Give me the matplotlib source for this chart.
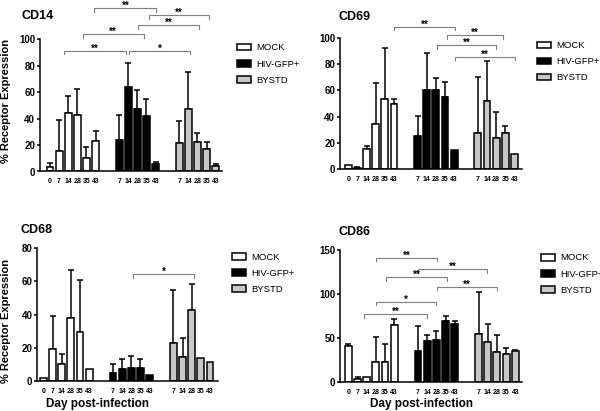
import matplotlib
matplotlib.use("Agg")
import matplotlib.pyplot as plt
import numpy as np

plt.rcParams["font.family"] = ["Liberation Sans", "DejaVu Sans"]

GROUPS = ["MOCK", "HIV-GFP+", "BYSTD"]
FACES = ["white", "black", "#c8c8c8"]
MOCK_DAYS = [0, 7, 14, 28, 35, 43]
INF_DAYS = [7, 14, 28, 35, 43]

# bar means and upper SD (% receptor expression)
cd14_mock = [3.2, 15.7, 44, 42.7, 10.4, 23]
cd14_mock_sd = [3.0, 23.3, 13.1, 19.5, 8.4, 7.6]
cd14_hiv = [23.8, 64.1, 47, 42.2, 5.7]
cd14_hiv_sd = [18.9, 18.2, 14.6, 12.6, 1.7]
cd14_byst = [21.3, 47.3, 22, 17, 4.2]
cd14_byst_sd = [17.1, 27.7, 6.8, 5.3, 1.2]

cd69_mock = [3.5, 1.0, 15.5, 34.4, 53.4, 49.4]
cd69_mock_sd = [0, 0.8, 2.5, 30.9, 39, 4]
cd69_hiv = [25, 60, 60.5, 55, 15]
cd69_hiv_sd = [15.8, 28.5, 9, 11.5, 0]
cd69_byst = [27.6, 51.9, 23.5, 27.6, 11.4]
cd69_byst_sd = [42.4, 30.6, 20, 5.4, 0]

cd68_mock = [2, 19.1, 10, 38.2, 29.3, 7]
cd68_mock_sd = [0, 20.1, 6.5, 28.5, 31.7, 0]
cd68_hiv = [4.6, 7, 8, 8, 3.4]
cd68_hiv_sd = [5.7, 6, 7, 5, 0]
cd68_byst = [22.7, 14.3, 42.8, 13.9, 11.5]
cd68_byst_sd = [32, 11.7, 15.5, 0, 0]

cd86_mock = [41, 3, 5, 22.8, 22, 64.6]
cd86_mock_sd = [1.9, 2.7, 0, 28.5, 21, 6.8]
cd86_hiv = [35, 46.7, 47.9, 68.7, 66]
cd86_hiv_sd = [28.4, 6.5, 9.8, 5.7, 2.7]
cd86_byst = [54.3, 45.6, 34.2, 31.5, 35]
cd86_byst_sd = [48.2, 19.7, 19.3, 6.5, 1]

# significance brackets: (x start, x end, y level, label), x in bar slots
cd14_sig = [(4.87, 11.68, 123.4, "**"), (10.85, 17.47, 118.4, "**"),
            (9.70, 16.34, 110.8, "**"), (3.59, 10.30, 103.8, "**"),
            (1.57, 8.32, 91.4, "**"), (8.71, 15.42, 91.4, "*")]
cd69_sig = [(5.04, 11.73, 108.4, "**"), (10.79, 17.0, 102, "**"),
            (9.69, 16.2, 94.5, "**"), (11.7, 18.3, 85.6, "**")]
cd68_sig = [(9.83, 16.45, 64.5, "*")]
cd86_sig = [(3.02, 9.72, 141.2, "**"), (7.64, 15.1, 128, "**"),
            (4.08, 10.74, 118.9, "**"), (9.65, 16.2, 108.2, "**"),
            (2.99, 9.57, 91.1, "*"), (1.75, 8.56, 77.1, "**")]

HIV_START, BYST_START = 7.6, 14.2
W, H = 600, 411


def px_rect(x0, x1, y_top, y_bot):
    return [x0 / W, 1 - y_bot / H, (x1 - x0) / W, (y_bot - y_top) / H]


PANELS = [
    dict(name="CD14", means=[cd14_mock, cd14_hiv, cd14_byst],
         sds=[cd14_mock_sd, cd14_hiv_sd, cd14_byst_sd], sig=cd14_sig,
         ymax=100, step=20, rect=px_rect(40, 222, 39.3, 171.5), xlim=(-1.1, 18.9),
         title=(22, 16), legend=(236.7, 49)),
    dict(name="CD69", means=[cd69_mock, cd69_hiv, cd69_byst],
         sds=[cd69_mock_sd, cd69_hiv_sd, cd69_byst_sd], sig=cd69_sig,
         ymax=100, step=20, rect=px_rect(340, 521.7, 37.7, 169.3), xlim=(-0.91, 19.0),
         title=(339, 16.7), legend=(536.7, 46.7)),
    dict(name="CD68", means=[cd68_mock, cd68_hiv, cd68_byst],
         sds=[cd68_mock_sd, cd68_hiv_sd, cd68_byst_sd], sig=cd68_sig,
         ymax=80, step=20, rect=px_rect(37.3, 218.3, 248.3, 381), xlim=(-0.66, 19.1),
         title=(20.7, 230), legend=(231.7, 258.3)),
    dict(name="CD86", means=[cd86_mock, cd86_hiv, cd86_byst],
         sds=[cd86_mock_sd, cd86_hiv_sd, cd86_byst_sd], sig=cd86_sig,
         ymax=150, step=50, rect=px_rect(340, 521.7, 250, 381.7), xlim=(-0.91, 18.9),
         title=(339, 231.7), legend=(540.7, 259)),
]


def draw_panel(fig, p):
    ax = fig.add_axes(p["rect"])
    xs = [np.arange(6.0), HIV_START + np.arange(5), BYST_START + np.arange(5)]
    for x, m, sd, fc, lab in zip(xs, p["means"], p["sds"], FACES, GROUPS):
        m, sd = np.asarray(m, float), np.asarray(sd, float)
        ax.bar(x, m, width=0.75, color=fc, edgecolor="black", linewidth=1.1,
               label=lab, zorder=2)
        keep = sd > 0
        ax.errorbar(x[keep], m[keep], yerr=[np.zeros(keep.sum()), sd[keep]],
                    fmt="none", ecolor="black", elinewidth=1.1, capsize=2,
                    capthick=1.1, zorder=1)

    ax.set_xlim(*p["xlim"])
    ax.set_ylim(0, p["ymax"])
    ax.set_yticks(np.arange(0, p["ymax"] + 1, p["step"]))
    ax.set_xticks(np.concatenate(xs))
    ax.set_xticklabels([str(d) for d in MOCK_DAYS + INF_DAYS + INF_DAYS])
    for s in ("top", "right"):
        ax.spines[s].set_visible(False)
    for s in ("left", "bottom"):
        ax.spines[s].set_linewidth(1.1)
    ax.tick_params(axis="x", length=0, pad=5, labelsize=5)
    ax.tick_params(axis="y", length=2.5, width=1.1, pad=1, labelsize=7)
    for t in ax.get_xticklabels() + ax.get_yticklabels():
        t.set_fontweight("bold")

    drop = 0.028 * p["ymax"]
    for x0, x1, y, lab in p["sig"]:
        ax.plot([x0, x0, x1, x1], [y - drop, y, y, y - drop], color="#808080",
                lw=0.8, clip_on=False, zorder=3)
        ax.annotate(lab, ((x0 + x1) / 2, y), xytext=(0, 1.5), textcoords="offset points",
                    ha="center", va="center", fontsize=7, fontweight="bold",
                    annotation_clip=False)

    tx, ty = p["title"]
    fig.text(tx / W, 1 - ty / H, p["name"], ha="left", va="center",
             fontsize=9, fontweight="bold")
    lx, ly = p["legend"]
    ax.legend(loc="upper left", bbox_to_anchor=(lx / W, 1 - (ly - 5.5) / H),
              bbox_transform=fig.transFigure, frameon=False, fontsize=6.8,
              handlelength=1.5, handleheight=0.7, handletextpad=0.6,
              labelspacing=0.75, borderpad=0, borderaxespad=0)
    return ax


def main():
    fig = plt.figure(figsize=(W / 100, H / 100), dpi=100)
    for p in PANELS:
        draw_panel(fig, p)
    for y in (101, 321):
        fig.text(6 / W, 1 - y / H, "% Receptor Expression", rotation=90,
                 ha="center", va="center", fontsize=8, fontweight="bold")
    for x in (97.5, 421.7):
        fig.text(x / W, 1 - 404 / H, "Day post-infection", ha="center", va="center",
                 fontsize=8.5, fontweight="bold")
    fig.savefig("out.png", dpi=100)


if __name__ == "__main__":
    main()
